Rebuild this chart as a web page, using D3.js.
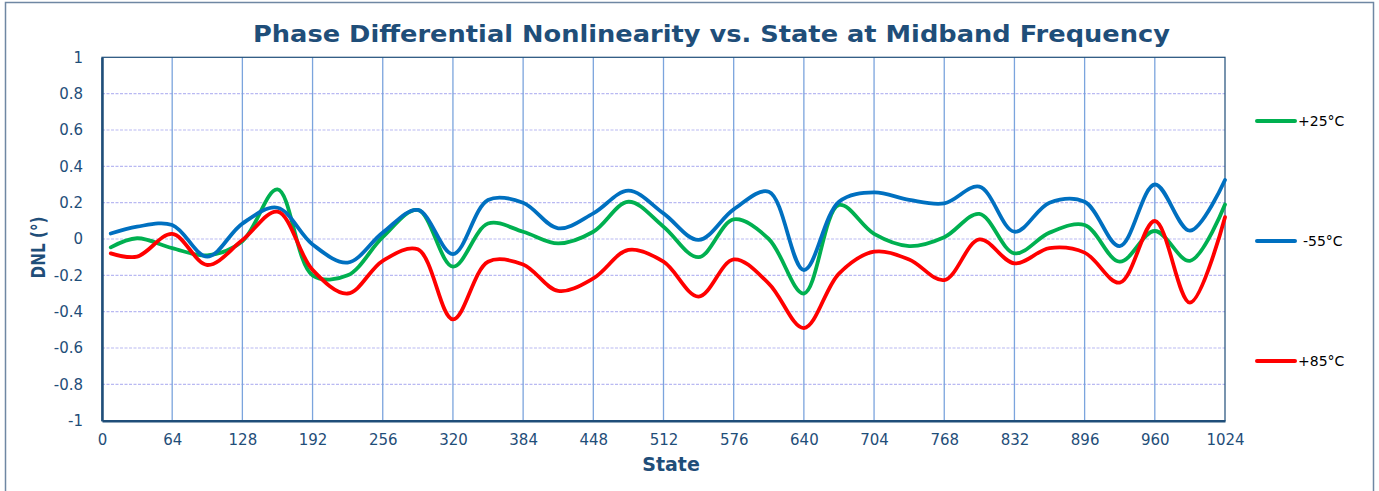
<!DOCTYPE html>
<html><head><meta charset="utf-8">
<script src="https://cdn.jsdelivr.net/npm/d3@7"></script>
<style>body{margin:0;background:#fff;} svg{display:block;font-family:"DejaVu Sans",Verdana,sans-serif;}</style>
</head><body><svg id="c" width="1379" height="491"></svg>
<script>
const chartTitle = "Phase Differential Nonlinearity vs. State at Midband Frequency";
const xTitle = "State";
const yTitle = "DNL (°)";
const states = [8,32,64,96,128,160,192,224,256,288,320,352,384,416,448,480,512,544,576,608,640,672,704,736,768,800,832,864,896,928,960,992,1024];
const dnl25 = [-0.046,0.004,-0.05,-0.09,-0.012,0.273,-0.2,-0.2,0.01,0.16,-0.152,0.085,0.04,-0.024,0.04,0.205,0.068,-0.1,0.108,0.0,-0.3,0.187,0.028,-0.039,0.01,0.138,-0.079,0.035,0.077,-0.125,0.044,-0.12,0.19];
const dnlM55 = [0.03,0.068,0.077,-0.097,0.085,0.172,-0.03,-0.13,0.035,0.16,-0.083,0.215,0.2,0.059,0.141,0.266,0.141,-0.005,0.163,0.26,-0.171,0.205,0.257,0.215,0.196,0.288,0.04,0.2,0.205,-0.039,0.3,0.046,0.325];
const dnl85 = [-0.079,-0.097,0.028,-0.143,-0.006,0.15,-0.17,-0.3,-0.12,-0.057,-0.442,-0.125,-0.14,-0.286,-0.217,-0.06,-0.125,-0.317,-0.112,-0.245,-0.49,-0.19,-0.07,-0.113,-0.226,-0.002,-0.134,-0.05,-0.075,-0.24,0.099,-0.35,0.12];
const seriesNames = ["+25°C","-55°C","+85°C"];
const seriesColors = ["#00b050","#0070c0","#ff0000"];
const xTicks = [0,64,128,192,256,320,384,448,512,576,640,704,768,832,896,960,1024];
const yTicks = [1,0.8,0.6,0.4,0.2,0,-0.2,-0.4,-0.6,-0.8,-1];
const yTickLabels = ["1","0.8","0.6","0.4","0.2","0","-0.2","-0.4","-0.6","-0.8","-1"];

const svg = d3.select("#c");
const dark = "#1f4e79";
const L = 102, R = 1225, T = 57.3, B = 420.7;
const x = d3.scaleLinear().domain([0,1024]).range([L,R]);
const y = d3.scaleLinear().domain([-1,1]).range([B,T]);

// outer frame
svg.append("rect").attr("x",5.5).attr("y",2.5).attr("width",1368).attr("height",500)
  .attr("fill","none").attr("stroke","#6f87a3").attr("stroke-width",1.5);

// title
svg.append("text").attr("x",711.5).attr("y",42).attr("text-anchor","middle")
  .attr("font-size",23.5).attr("font-weight","bold").attr("fill",dark)
  .attr("textLength",917).attr("lengthAdjust","spacingAndGlyphs").text(chartTitle);

// horizontal grid
svg.append("g").selectAll("line").data(yTicks.filter(d=>d!==1&&d!==-1)).join("line")
  .attr("x1",L).attr("x2",R).attr("y1",d=>y(d)).attr("y2",d=>y(d))
  .attr("stroke","#b9b9f2").attr("stroke-width",1.2).attr("stroke-dasharray","3,1.5");
// vertical grid
svg.append("g").selectAll("line").data(xTicks.filter(d=>d!==0&&d!==1024)).join("line")
  .attr("x1",d=>x(d)).attr("x2",d=>x(d)).attr("y1",T).attr("y2",B)
  .attr("stroke","#7ba4dd").attr("stroke-width",1.3);

// plot border
svg.append("rect").attr("x",L).attr("y",T).attr("width",R-L).attr("height",B-T)
  .attr("fill","none").attr("stroke",dark).attr("stroke-width",1.2);

// axes
const xAxis = svg.append("g").attr("transform",`translate(0,${B})`)
  .call(d3.axisBottom(x).tickValues(xTicks).tickSize(0).tickPadding(13.5).tickFormat(d3.format("d")));
const yAxis = svg.append("g").attr("transform",`translate(${L},0)`)
  .call(d3.axisLeft(y).tickValues(yTicks).tickSize(0).tickPadding(19).tickFormat((d,i)=>yTickLabels[i]));
[xAxis,yAxis].forEach(g=>{
  g.select(".domain").attr("stroke",dark).attr("stroke-width",2.5);
  g.selectAll("text").attr("font-size",15).attr("fill",dark).attr("font-family","DejaVu Sans");
});

// axis titles
svg.append("text").attr("x",671).attr("y",471).attr("text-anchor","middle")
  .attr("font-size",19).attr("font-weight","bold").attr("fill",dark).text(xTitle);
svg.append("text").attr("transform","translate(45,247.5) rotate(-90)").attr("text-anchor","middle")
  .attr("font-size",20).attr("font-weight","bold").attr("fill",dark)
  .attr("textLength",62).attr("lengthAdjust","spacingAndGlyphs").text(yTitle);

// series
const series = [dnl25, dnlM55, dnl85];
const line = d3.line().x(d=>x(d[0])).y(d=>y(d[1])).curve(d3.curveCatmullRom.alpha(0.5));
const g = svg.append("g");
series.forEach((vals,i)=>{
  g.append("path").datum(states.map((s,j)=>[s,vals[j]]))
    .attr("d",line).attr("fill","none").attr("stroke",seriesColors[i])
    .attr("stroke-width",3.8).attr("stroke-linejoin","round").attr("stroke-linecap","round");
});

// legend
const legY = [121,241,361];
const lg = svg.append("g");
seriesNames.forEach((n,i)=>{
  lg.append("line").attr("x1",1257).attr("x2",1295).attr("y1",legY[i]).attr("y2",legY[i])
    .attr("stroke",seriesColors[i]).attr("stroke-width",4).attr("stroke-linecap","round");
  lg.append("text").attr("x",i===1?1303:1298).attr("y",legY[i]).attr("dy","0.35em")
    .attr("font-size",14).attr("fill","#000").text(n);
});
</script></body></html>
